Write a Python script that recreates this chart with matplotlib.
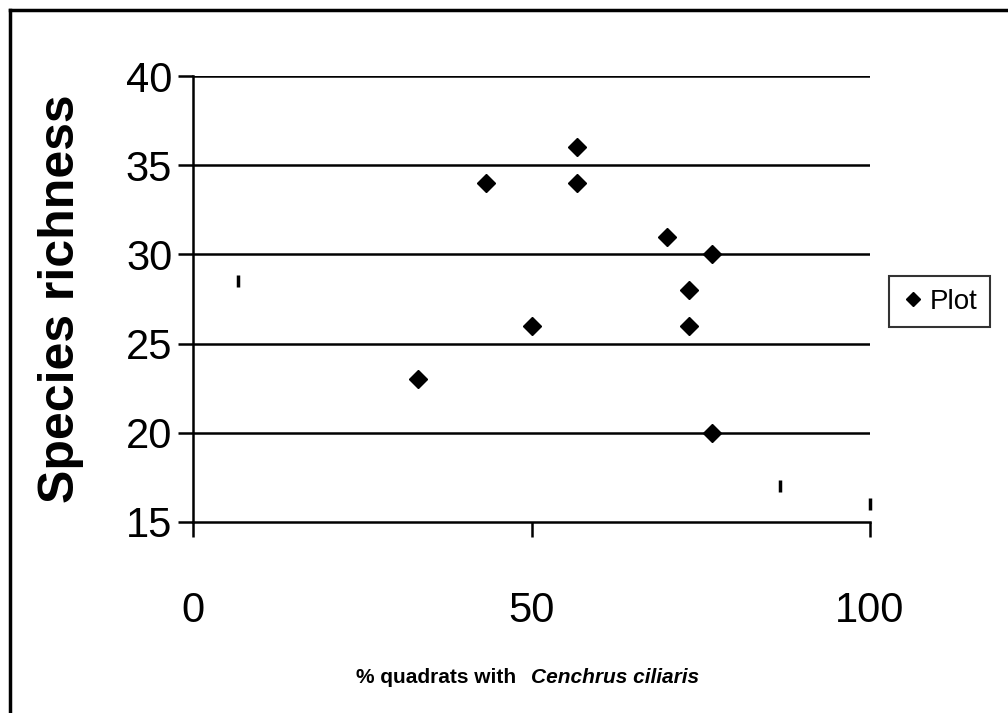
import matplotlib as mpl
mpl.use("agg")
import matplotlib.pyplot as plt
from matplotlib.lines import Line2D

# % quadrats with Cenchrus ciliaris vs species richness
cover = [33.3, 43.3, 50, 56.7, 56.7, 70, 73.3, 73.3, 76.7, 76.7]
richness = [23, 34, 26, 36, 34, 31, 28, 26, 30, 20]

# plots drawn as small vertical bars in the original
bar_cover = [6.7, 86.7, 100]
bar_richness = [28.5, 17, 16]

x_ticks = [0, 50, 100]
y_ticks = [15, 20, 25, 30, 35, 40]

plt.rcParams['font.family'] = ['Liberation Sans', 'DejaVu Sans']

fig = plt.figure(figsize=(10.08, 7.13), dpi=100)
ax = fig.add_axes([0.1915, 0.2679, 0.6716, 0.6255])

for v in y_ticks[1:]:
    ax.axhline(v, color="black", lw=1.8, zorder=1)

ax.plot(cover, richness, linestyle="none", marker="D", ms=9,
        color="black", zorder=3, clip_on=False)
ax.plot(bar_cover, bar_richness, linestyle="none", marker="|", ms=9,
        mew=2.5, color="black", zorder=3, clip_on=False)

ax.set_xlim(0, 100)
ax.set_ylim(15, 40)
ax.set_xticks(x_ticks)
ax.set_yticks(y_ticks)
ax.tick_params(axis="both", direction="out", length=11, width=1.8,
               labelsize=30)
ax.tick_params(axis="x", pad=39)
ax.tick_params(axis="y", pad=4)

for s in ["top", "right"]:
    ax.spines[s].set_visible(False)
for s in ["left", "bottom"]:
    ax.spines[s].set_linewidth(1.8)

ax.set_ylabel("Species richness", fontsize=36, fontweight="bold", labelpad=30)

# x label: plain bold part + bold italic species name
fig.text(516 / 1008, 0.05, "% quadrats with", fontsize=15,
         fontweight="bold", ha="right", va="center")
fig.text(531 / 1008, 0.05, "Cenchrus ciliaris", fontsize=15,
         fontweight="bold", fontstyle="italic", ha="left", va="center")

handle = Line2D([], [], linestyle="none", marker="D", ms=7, color="black")
leg = fig.legend([handle], ["Plot"], loc="center",
                 bbox_to_anchor=(0.932, 0.577), fontsize=20, frameon=True,
                 fancybox=False, edgecolor="black", handlelength=0.8,
                 handletextpad=0.2, borderpad=0.45)
leg.get_frame().set_linewidth(1.5)

# outer chart border
fig.add_artist(Line2D([0.01, 0.01], [0.0, 0.986], color="black", lw=2.5))
fig.add_artist(Line2D([0.01, 1.0], [0.986, 0.986], color="black", lw=2.5))

fig.savefig("out.png", dpi=100)
